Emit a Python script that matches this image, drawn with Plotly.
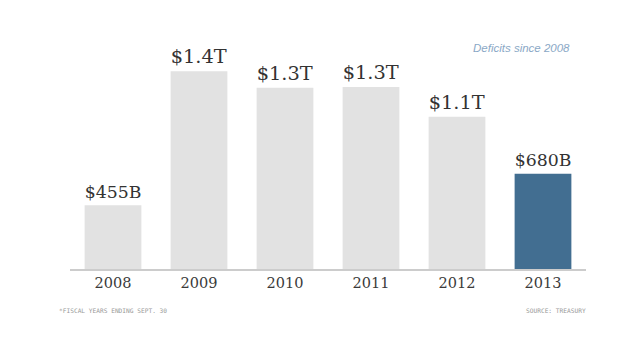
import plotly.graph_objects as go

years = ["2008", "2009", "2010", "2011", "2012", "2013"]
deficits_billion = [455, 1413, 1294, 1300, 1087, 680]
labels = ["$455B", "$1.4T", "$1.3T", "$1.3T", "$1.1T", "$680B"]
bar_colors = ["#e2e2e2"] * 5 + ["#426e91"]

fig = go.Figure(go.Bar(
    x=years, y=deficits_billion, text=labels, textposition="outside",
    marker=dict(color=bar_colors, line=dict(width=0)),
    textfont=dict(family="DejaVu Serif", size=20, color="#333333"),
    cliponaxis=False, width=0.66,
))

fig.update_layout(
    width=640, height=351,
    margin=dict(l=70, r=54, t=59, b=82),
    paper_bgcolor="white", plot_bgcolor="white",
    showlegend=False,
    xaxis=dict(type="category", range=[-0.5, 5.5], showgrid=False,
               showline=True, linecolor="#cccccc", linewidth=2,
               ticks="", tickfont=dict(family="DejaVu Serif", size=14.5, color="#3a3a3a")),
    yaxis=dict(range=[0, 1500], visible=False, showgrid=False),
    annotations=[
        dict(text="<i>Deficits since 2008</i>", x=572, y=351 - 48, xanchor="right", yanchor="middle",
             showarrow=False, font=dict(family="Liberation Sans", size=11.5, color="#8aa8c6")),
        dict(text="*FISCAL YEARS ENDING SEPT. 30", x=57, y=351 - 310, xanchor="left", yanchor="middle",
             showarrow=False, font=dict(family="DejaVu Sans Mono", size=6.2, color="#999999")),
        dict(text="SOURCE: TREASURY", x=588, y=351 - 310, xanchor="right", yanchor="middle",
             showarrow=False, font=dict(family="DejaVu Sans Mono", size=6.2, color="#999999")),
    ],
)
# convert pixel positions to paper coordinates
for a in fig.layout.annotations:
    a.xref = "paper"; a.yref = "paper"
    a.x = (a.x - 70) / 516
    a.y = (a.y - 82) / 210

fig.write_html("out.html")
